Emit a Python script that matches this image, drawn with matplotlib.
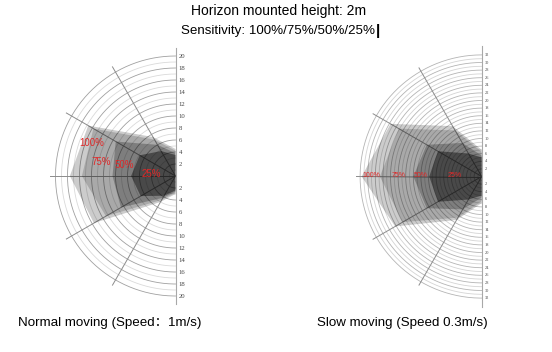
import numpy as np
import matplotlib.pyplot as plt

# vertex angles (deg, 90 = up, 180 = left) shared by all detection shapes
angles = [90, 120, 150, 180, 210, 240, 270]
levels = ["100%", "75%", "50%", "25%"]

# normal moving, radius in m at each angle
normal_100 = [4.5, 7.5, 16.8, 17.6, 15.7, 5.0, 3.0]
normal_75 = [4.2, 7.0, 15.8, 15.6, 13.4, 4.6, 2.8]
normal_50 = [3.8, 6.0, 11.5, 10.5, 10.5, 4.2, 2.6]
normal_25 = [3.5, 4.8, 6.9, 7.4, 6.7, 3.8, 2.4]

# slow moving
slow_100 = [7.0, 15.3, 27.7, 31.6, 26.3, 13.2, 7.0]
slow_75 = [6.5, 14.0, 25.2, 26.8, 24.0, 12.5, 6.5]
slow_50 = [5.5, 10.2, 16.7, 18.0, 16.7, 10.0, 5.5]
slow_25 = [5.0, 7.0, 13.3, 13.8, 13.3, 7.0, 5.0]

normal_max = 20
slow_max = 32

# label positions
normal_lbl = [(-14.0, 5.5), (-12.3, 2.4), (-8.5, 1.8), (-4.0, 0.4)]
slow_lbl = [(-29.0, 0.3), (-21.8, 0.3), (-16.0, 0.3), (-7.2, 0.3)]

fill_alpha = [0.2, 0.17, 0.25, 0.42]

W, H = 552, 352
fig = plt.figure(figsize=(W / 100, H / 100), dpi=100)


def px_axes(cx, cy, scale, x0, x1, yh):
    left = cx + x0 * scale
    top = cy - yh * scale
    return fig.add_axes([left / W, 1 - (top + 2 * yh * scale) / H,
                         (x1 - x0) * scale / W, 2 * yh * scale / H])


def draw_radar(ax, rmax, shapes, lbls, lbl_size, tick_size, major_col, minor_col):
    t = np.radians(np.linspace(90, 270, 200))
    for r in range(1, rmax + 1):
        col = major_col if r % 2 == 0 else minor_col
        ax.plot(r * np.cos(t), r * np.sin(t), color=col, lw=0.6, zorder=1)
    for a in (120, 150, 180, 210, 240):
        ar = np.radians(a)
        ax.plot([0, (rmax + 1) * np.cos(ar)], [0, (rmax + 1) * np.sin(ar)],
                color="#8c8c8c", lw=0.7, zorder=1)
    ax.plot([0, 0], [-rmax * 1.07, rmax * 1.07], color="#a8a8a8", lw=0.8, zorder=1)
    for k in range(2, rmax + 1, 2):
        for s in (1, -1):
            ax.text(rmax * 0.025, s * k, str(k), fontsize=tick_size, family="Liberation Serif",
                    color="#444444", va="center", ha="left")
    a = np.radians(angles)
    for vals, al in zip(shapes, fill_alpha):
        v = np.array(vals)
        xs = np.concatenate([[0], v * np.cos(a), [0]])
        ys = np.concatenate([[0], v * np.sin(a), [0]])
        ax.fill(xs, ys, color="black", alpha=al, lw=0, zorder=2)
    for (lx, ly), name in zip(lbls, levels):
        ax.text(lx, ly, name, fontsize=lbl_size, color="#e02828",
                family="Liberation Sans", ha="center", va="center", zorder=3)
    ax.axis("off")


ax1 = px_axes(175.5, 176, 6.0, -22, 3, 22.5)
ax1.set_xlim(-22, 3)
ax1.set_ylim(-22.5, 22.5)
draw_radar(ax1, normal_max, [normal_100, normal_75, normal_50, normal_25],
           normal_lbl, 7, 4.8, "#a0a0a0", "#dadada")

ax2 = px_axes(481.7, 176.5, 3.8, -35, 5, 35.5)
ax2.set_xlim(-35, 5)
ax2.set_ylim(-35.5, 35.5)
draw_radar(ax2, slow_max, [slow_100, slow_75, slow_50, slow_25],
           slow_lbl, 5, 3.2, "#b4b4b4", "#d4d4d4")

fams = ["Liberation Sans", "Noto Sans CJK SC"]
fig.text(279 / W, 1 - 11 / H, "Horizon mounted height: 2m", ha="center", va="center",
         fontsize=10, family=fams)
fig.text(278 / W, 1 - 31 / H, "Sensitivity: 100%/75%/50%/25%", ha="center", va="center",
         fontsize=9.6, family=fams)
fig.text(375.5 / W, 1 - 31 / H, "|", ha="left", va="center", fontsize=11,
         fontweight="bold", family=fams)
fig.text(18 / W, 1 - 323 / H, "Normal moving (Speed\uff1a1m/s)", ha="left", va="center",
         fontsize=9.6, family=fams)
fig.text(317 / W, 1 - 323 / H, "Slow moving (Speed 0.3m/s)", ha="left", va="center",
         fontsize=9.6, family=fams)

fig.savefig("out.png", dpi=100)
